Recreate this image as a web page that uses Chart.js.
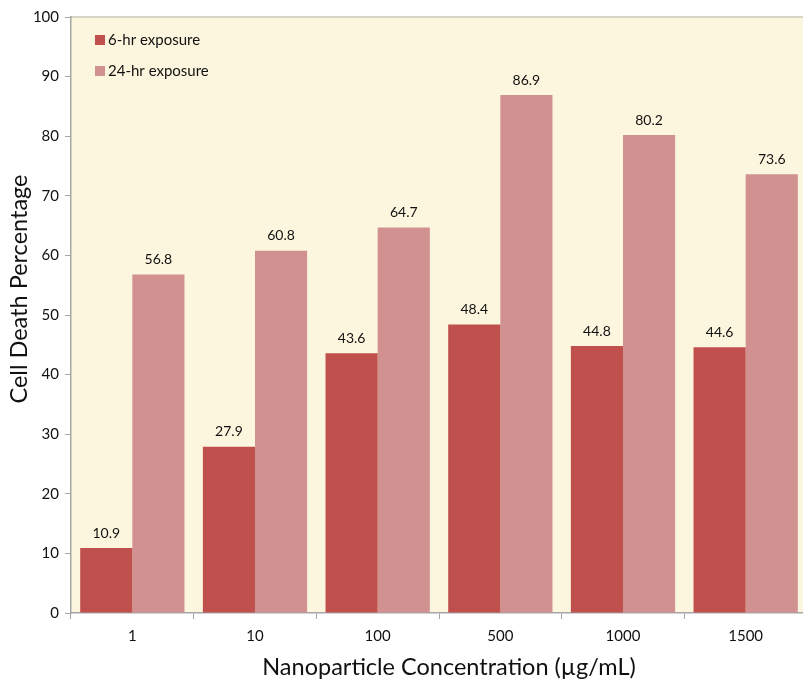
<!DOCTYPE html>
<html>
<head>
<meta charset="utf-8">
<script src="https://cdn.jsdelivr.net/npm/chart.js@4.4.0/dist/chart.umd.min.js"></script>
<style>
  html, body { margin: 0; padding: 0; background: #fff; overflow: hidden; }
  #wrap { width: 807px; height: 681px; }
</style>
</head>
<body>
<div id="wrap"><canvas id="myChart" width="807" height="681"></canvas></div>
<script>
// Data for the bar graph
const categories = ["1", "10", "100", "500", "1000", "1500"];
const sixHour = [10.9, 27.9, 43.6, 48.4, 44.8, 44.6];
const twentyFourHour = [56.8, 60.8, 64.7, 86.9, 80.2, 73.6];
const seriesNames = ["6-hr exposure", "24-hr exposure"];
const yTicks = [0, 10, 20, 30, 40, 50, 60, 70, 80, 90, 100];
const xTitle = "Nanoparticle Concentration (µg/mL)";
const yTitle = "Cell Death Percentage";

const fontFamily = "Lato, 'Open Sans', sans-serif";
const axisGrey = "#A6A6A6";

// cream plot background + top border
const plotBg = {
  id: "plotBg",
  beforeDraw(chart) {
    const { ctx, chartArea: a } = chart;
    ctx.save();
    ctx.fillStyle = "#FDF6DE";
    ctx.fillRect(a.left, a.top, a.right - a.left, a.bottom - a.top);
    ctx.strokeStyle = "#C8C8B8";
    ctx.lineWidth = 1.5;
    ctx.beginPath();
    ctx.moveTo(a.left, a.top);
    ctx.lineTo(a.right, a.top);
    ctx.stroke();
    ctx.restore();
  }
};

// value labels above bars, legend inside plot, axis titles
const labelsAndLegend = {
  id: "labelsAndLegend",
  afterDatasetsDraw(chart) {
    const { ctx, chartArea: a } = chart;
    ctx.save();
    ctx.font = "14px " + fontFamily;
    ctx.fillStyle = "#111";
    ctx.textAlign = "center";
    ctx.textBaseline = "bottom";
    chart.data.datasets.forEach((ds, i) => {
      chart.getDatasetMeta(i).data.forEach((bar, j) => {
        ctx.fillText(ds.data[j].toFixed(1), bar.x, bar.y - 8);
      });
    });
    // legend
    ctx.font = "15px " + fontFamily;
    ctx.textAlign = "left";
    ctx.textBaseline = "middle";
    chart.data.datasets.forEach((ds, i) => {
      const y = a.top + 23 + i * 31;
      ctx.fillStyle = ds.backgroundColor;
      ctx.fillRect(a.left + 24, y - 5, 10, 10);
      ctx.fillStyle = "#111";
      ctx.fillText(ds.label, a.left + 37, y);
    });
    // axis titles (centred as in the original, which was cut at the right)
    ctx.font = "23.5px " + fontFamily;
    ctx.textAlign = "center";
    ctx.textBaseline = "middle";
    ctx.fillText(xTitle, 449, 667);
    ctx.translate(19, 289);
    ctx.rotate(-Math.PI / 2);
    ctx.fillText(yTitle, 0, 0);
    ctx.restore();
  }
};

let data = {
  labels: categories,
  datasets: [
    {
      label: seriesNames[0],
      backgroundColor: "#C0504D",
      data: sixHour
    },
    {
      label: seriesNames[1],
      backgroundColor: "#D19191",
      data: twentyFourHour
    }
  ]
};

let options = {
  responsive: false,
  animation: false,
  layout: { padding: { top: 17, right: 0, left: 0, bottom: 0 } },
  plugins: {
    legend: { display: false },
    tooltip: { enabled: false }
  },
  datasets: {
    bar: { categoryPercentage: 0.85, barPercentage: 1.0 }
  },
  scales: {
    x: {
      offset: true,
      grid: {
        offset: true,
        drawOnChartArea: false,
        drawTicks: true,
        tickLength: 6,
        color: axisGrey
      },
      border: { color: axisGrey, width: 1.5 },
      ticks: {
        color: "#111",
        font: { family: fontFamily, size: 15 },
        padding: 8
      },
      afterFit(scale) { scale.height = 68; }
    },
    y: {
      min: 0,
      max: 100,
      afterBuildTicks(scale) {
        scale.ticks = yTicks.map(v => ({ value: v }));
      },
      grid: {
        drawOnChartArea: false,
        drawTicks: true,
        tickLength: 6,
        color: axisGrey
      },
      border: { color: axisGrey, width: 1.5 },
      ticks: {
        color: "#111",
        font: { family: fontFamily, size: 15 },
        padding: 6
      },
      afterFit(scale) { scale.width = 71; }
    }
  }
};

let ctx = document.getElementById("myChart").getContext("2d");

let myChart = new Chart(ctx, {
  type: "bar",
  data: data,
  options: options,
  plugins: [plotBg, labelsAndLegend]
});
</script>
</body>
</html>
